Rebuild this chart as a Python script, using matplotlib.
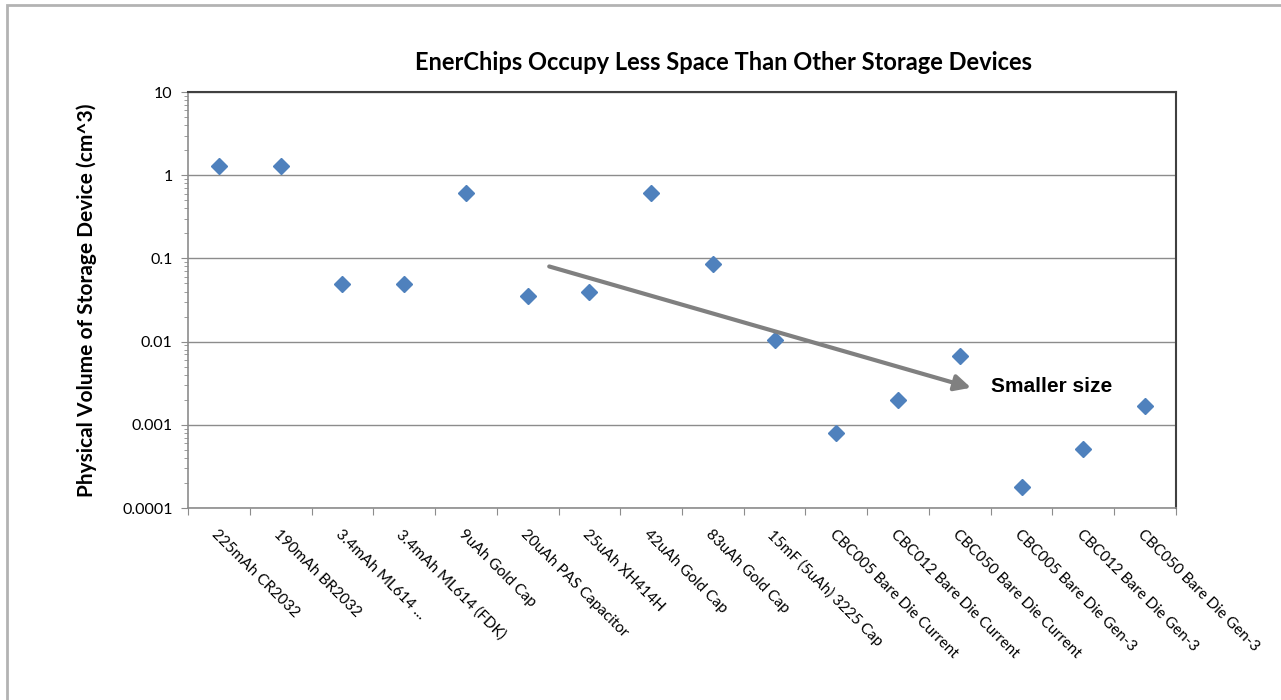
import matplotlib
matplotlib.use('Agg')
import matplotlib.pyplot as plt
from matplotlib.patches import Rectangle
from matplotlib.ticker import LogLocator, NullFormatter, FixedLocator

plt.rcParams['font.family'] = ['Lato', 'DejaVu Sans']

devices = ['225mAh CR2032', '190mAh BR2032', '3.4mAh ML614 ...', '3.4mAh ML614 (FDK)',
           '9uAh Gold Cap', '20uAh PAS Capacitor', '25uAh XH414H', '42uAh Gold Cap',
           '83uAh Gold Cap', '15mF (5uAh) 3225 Cap', 'CBC005 Bare Die Current',
           'CBC012 Bare Die Current', 'CBC050 Bare Die Current', 'CBC005 Bare Die Gen-3',
           'CBC012 Bare Die Gen-3', 'CBC050 Bare Die Gen-3']
volume_cm3 = [1.28, 1.28, 0.049, 0.049, 0.61, 0.035, 0.039, 0.61,
              0.085, 0.0105, 0.0008, 0.002, 0.0068, 0.00018, 0.00051, 0.00166]
yticks = [0.0001, 0.001, 0.01, 0.1, 1, 10]
ytick_labels = ['0.0001', '0.001', '0.01', '0.1', '1', '10']

fig = plt.figure(figsize=(12.81, 7.0), dpi=100)
# outer chart border (only left/top visible in the crop)
fig.patches.append(Rectangle((7/1281, -0.05), 1.2, 1 - 5/700 + 0.05, transform=fig.transFigure,
                             fill=False, edgecolor='#b3b3b3', lw=2))

ax = fig.add_axes([188/1281, 1 - 508/700, (1176-188)/1281, (508-92)/700])
n = len(devices)
x = list(range(n))
ax.plot(x, volume_cm3, linestyle='none', marker='D', markersize=8,
        color='#4f81bd', zorder=3)

ax.set_yscale('log')
ax.set_ylim(0.0001, 10)
ax.set_xlim(-0.5, n - 0.5)
ax.set_yticks(yticks)
ax.set_yticklabels(ytick_labels)
ax.yaxis.set_minor_locator(LogLocator(base=10, subs=range(2, 10)))
ax.yaxis.set_minor_formatter(NullFormatter())
ax.grid(axis='y', which='major', color='#8c8c8c', lw=1)
ax.set_axisbelow(True)

# category boundaries get tick marks, centers get the labels
ax.xaxis.set_major_locator(FixedLocator([i - 0.5 for i in range(n + 1)]))
ax.xaxis.set_major_formatter(NullFormatter())
ax.xaxis.set_minor_locator(FixedLocator(x))
ax.set_xticklabels(devices, minor=True, rotation=-45, ha='left', va='top',
                   rotation_mode='anchor', fontsize=11)
ax.tick_params(axis='x', which='minor', length=0, pad=14)
ax.tick_params(axis='x', which='major', length=5, color='#8c8c8c', direction='out')
ax.tick_params(axis='y', which='major', length=5, color='#8c8c8c', labelsize=11.5, pad=6)
ax.tick_params(axis='y', which='minor', length=3, color='#8c8c8c')

for s in ['left', 'bottom']:
    ax.spines[s].set_color('#8c8c8c')
    ax.spines[s].set_linewidth(1.2)
for s in ['top', 'right']:
    ax.spines[s].set_color('#404040')
    ax.spines[s].set_linewidth(1.5)

ax.set_ylabel('Physical Volume of Storage Device (cm^3)', fontsize=15, fontweight='bold', labelpad=18)
ax.set_title('EnerChips Occupy Less Space Than Other Storage Devices', fontsize=17,
             fontweight='bold', pad=16, x=0.542)

ax.annotate('', xy=(12.18, 0.00279), xytext=(5.35, 0.080),
            arrowprops=dict(arrowstyle='-|>', color='#808080', lw=3, mutation_scale=24,
                            shrinkA=0, shrinkB=0))
ax.text(12.5, 0.0029, 'Smaller size', fontsize=15, fontweight='bold',
        family=['Liberation Sans', 'DejaVu Sans'], va='center', ha='left')

fig.savefig('out.png', dpi=100)
